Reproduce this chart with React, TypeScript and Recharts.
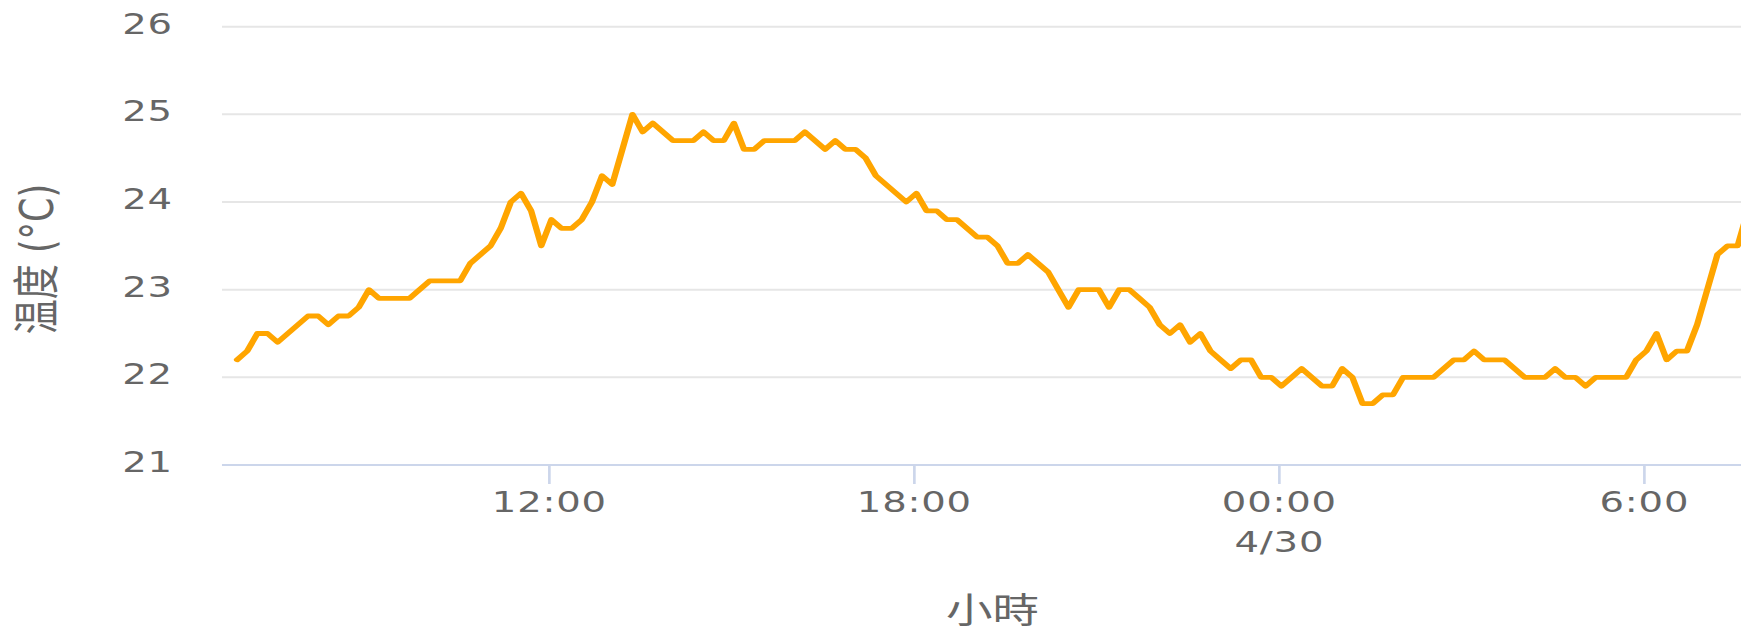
import { LineChart, Line, XAxis, YAxis, CartesianGrid, Label } from "recharts";

// 10-minute readings, 4/29 06:52 -> 4/30 07:42
const START_MIN = 412; // minutes after 4/29 00:00
const STEP_MIN = 10;

const TEMPS = [
  22.2, 22.3, 22.5, 22.5, 22.4, 22.5, 22.6, 22.7, 22.7, 22.6,
  22.7, 22.7, 22.8, 23.0, 22.9, 22.9, 22.9, 22.9, 23.0, 23.1,
  23.1, 23.1, 23.1, 23.3, 23.4, 23.5, 23.7, 24.0, 24.1, 23.9,
  23.5, 23.8, 23.7, 23.7, 23.8, 24.0, 24.3, 24.2, 24.6, 25.0,
  24.8, 24.9, 24.8, 24.7, 24.7, 24.7, 24.8, 24.7, 24.7, 24.9,
  24.6, 24.6, 24.7, 24.7, 24.7, 24.7, 24.8, 24.7, 24.6, 24.7,
  24.6, 24.6, 24.5, 24.3, 24.2, 24.1, 24.0, 24.1, 23.9, 23.9,
  23.8, 23.8, 23.7, 23.6, 23.6, 23.5, 23.3, 23.3, 23.4, 23.3,
  23.2, 23.0, 22.8, 23.0, 23.0, 23.0, 22.8, 23.0, 23.0, 22.9,
  22.8, 22.6, 22.5, 22.6, 22.4, 22.5, 22.3, 22.2, 22.1, 22.2,
  22.2, 22.0, 22.0, 21.9, 22.0, 22.1, 22.0, 21.9, 21.9, 22.1,
  22.0, 21.7, 21.7, 21.8, 21.8, 22.0, 22.0, 22.0, 22.0, 22.1,
  22.2, 22.2, 22.3, 22.2, 22.2, 22.2, 22.1, 22.0, 22.0, 22.0,
  22.1, 22.0, 22.0, 21.9, 22.0, 22.0, 22.0, 22.0, 22.2, 22.3,
  22.5, 22.2, 22.3, 22.3, 22.6, 23.0, 23.4, 23.5, 23.5, 23.9,
];

const X_TICKS = [720, 1080, 1440, 1800];
const X_TICK_LABELS = ["12:00", "18:00", "00:00", "6:00"];
const X_TICK_DATES = ["", "", "4/30", ""];
const Y_TICKS = [21, 22, 23, 24, 25, 26];

const data = TEMPS.map((t, i) => ({ time: START_MIN + i * STEP_MIN, temp: t }));
const first = data[0].time;
const last = data[data.length - 1].time;
const pad = (last - first) * 0.01;

// the reference is stretched horizontally; draw narrow and scale up
const SX = 1.33;
const W = 1330;
const H = 633;
const FONT = '"DejaVu Sans", "Noto Sans CJK TC", sans-serif';
const GREY = "#666666";
const AXIS = "#ccd6eb";

function XTick({ x, y, payload }: any) {
  const i = X_TICKS.indexOf(payload.value);
  return (
    <text x={x} y={y} textAnchor="middle" fill={GREY} fontSize={29} fontFamily={FONT} letterSpacing={0.6}>
      <tspan x={x} dy={28}>{X_TICK_LABELS[i]}</tspan>
      {X_TICK_DATES[i] && (
        <tspan x={x} dy={40}>
          {X_TICK_DATES[i]}
        </tspan>
      )}
    </text>
  );
}

function YTick({ y, payload }: any) {
  return (
    <text x={130} y={y + 7} textAnchor="end" fill={GREY} fontSize={29} fontFamily={FONT} letterSpacing={0.6}>
      {payload.value}
    </text>
  );
}

export default function App() {
  return (
    <div
      style={{
        position: "absolute",
        left: 0,
        top: 0,
        width: 1741,
        height: H,
        overflow: "hidden",
        background: "#fff",
      }}
    >
      <div style={{ width: W, height: H, transform: `scaleX(${SX})`, transformOrigin: "0 0" }}>
        <LineChart width={W} height={H} data={data} margin={{ top: 26.7, right: 4.5, bottom: 0, left: 0 }}>
          <CartesianGrid vertical={false} stroke="#e6e6e6" strokeWidth={2} />
          <XAxis
            dataKey="time"
            type="number"
            domain={[first - pad, last + pad]}
            ticks={X_TICKS}
            interval={0}
            height={168}
            tickSize={19}
            tickMargin={0}
            axisLine={{ stroke: AXIS, strokeWidth: 2 }}
            tickLine={{ stroke: AXIS, strokeWidth: 2 }}
            tick={<XTick />}
          >
            <Label
              content={({ viewBox }: any) => (
                <text
                  x={viewBox.x + viewBox.width / 2}
                  y={623}
                  textAnchor="middle"
                  fill={GREY}
                  fontSize={35}
                  fontFamily={FONT}
                >
                  小時
                </text>
              )}
            />
          </XAxis>
          <YAxis
            type="number"
            domain={[21, 26]}
            ticks={Y_TICKS}
            width={166.9}
            axisLine={false}
            tickLine={false}
            tick={<YTick />}
          >
            <Label
              content={() => (
                <text
                  x={28}
                  y={259}
                  transform="rotate(-90 28 259)"
                  textAnchor="middle"
                  dominantBaseline="central"
                  fill={GREY}
                  fontSize={35}
                  fontFamily={FONT}
                >
                  温度 (°C)
                </text>
              )}
            />
          </YAxis>
          <Line
            type="linear"
            dataKey="temp"
            stroke="#ffa500"
            strokeWidth={4.8}
            strokeLinejoin="round"
            strokeLinecap="round"
            dot={false}
            activeDot={false}
            isAnimationActive={false}
          />
        </LineChart>
      </div>
    </div>
  );
}
